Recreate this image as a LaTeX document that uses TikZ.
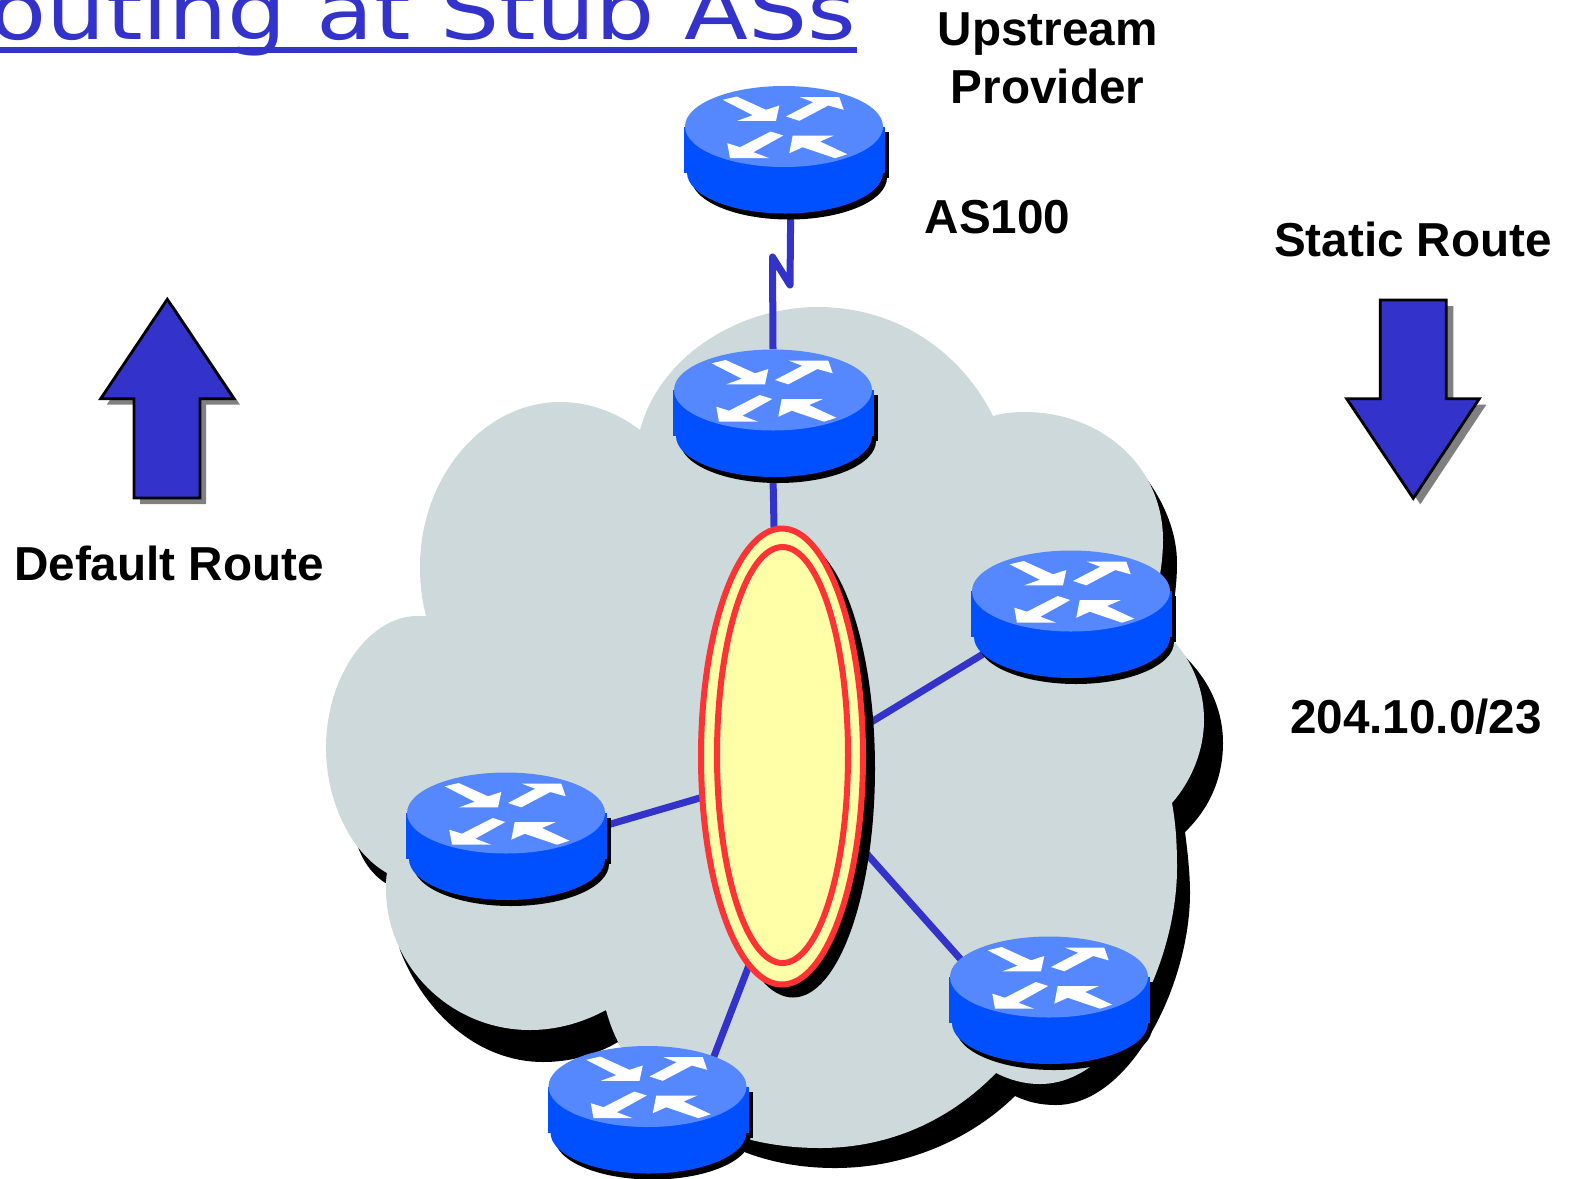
\documentclass[tikz,border=0pt]{standalone}
\usepackage{fontspec}
\setmainfont{Liberation Sans}
\newfontfamily\titlefont{DejaVu Sans}
\usetikzlibrary{shapes.geometric}
\definecolor{linkblue}{HTML}{3333CC}
\definecolor{routertop}{HTML}{5588FF}
\definecolor{routerbody}{HTML}{0050FF}
\definecolor{cloudgrey}{HTML}{CED9DB}
\definecolor{hubred}{HTML}{FF3333}
\definecolor{hubyellow}{HTML}{FFFFA8}
\newcommand{\cloudoutline}{
    (640,430) .. controls (660,355) and (740,307) .. (818,307)
    .. controls (895,307) and (960,350) .. (993,416)
    .. controls (1003,413) and (1014,412) .. (1025,412)
    .. controls (1100,412) and (1163,465) .. (1163,540)
    .. controls (1163,570) and (1155,600) .. (1150,620)
    .. controls (1185,645) and (1204,680) .. (1204,720)
    .. controls (1204,750) and (1192,780) .. (1172,803)
    .. controls (1176,825) and (1177,845) .. (1177,868)
    .. controls (1177,960) and (1120,1084) .. (1040,1084)
    .. controls (1024,1084) and (1010,1080) .. (996,1073)
    .. controls (950,1120) and (890,1148) .. (820,1148)
    .. controls (720,1148) and (630,1100) .. (606,1010)
    .. controls (582,1023) and (556,1030) .. (530,1030)
    .. controls (450,1030) and (386,965) .. (386,889)
    .. controls (386,883) and (386,878) .. (387,873)
    .. controls (350,852) and (326,800) .. (326,748)
    .. controls (326,675) and (370,616) .. (417,616)
    -- (426,616) .. controls (422,600) and (420,585) .. (420,567)
    .. controls (420,475) and (485,402) .. (560,402)
    .. controls (590,402) and (618,413) .. (640,430) -- cycle}
\newcommand{\cloudshade}{
    (1146,478) .. controls (1166,505) and (1177,535) .. (1177,563)
    .. controls (1177,590) and (1172,620) .. (1165,640)
    .. controls (1200,665) and (1223,700) .. (1223,743)
    .. controls (1223,780) and (1208,810) .. (1185,832)
    .. controls (1188,855) and (1190,875) .. (1190,893)
    .. controls (1190,985) and (1130,1105) .. (1056,1105)
    .. controls (1040,1105) and (1028,1102) .. (1015,1096)
    .. controls (970,1140) and (905,1168) .. (835,1168)
    .. controls (760,1168) and (680,1140) .. (618,1042)
    .. controls (596,1055) and (570,1062) .. (543,1062)
    .. controls (480,1062) and (425,1015) .. (400,950)
    -- (387,884) .. controls (372,875) and (362,860) .. (357,844)
    -- (600,600) -- cycle}
\tikzset{
    label/.style={font=\fontsize{13.55}{16}\selectfont\bfseries,anchor=base,inner sep=0pt},
    link/.style={draw=linkblue,line width=.07cm,line join=round},
    routerport/.style={ellipse,minimum width=2cm,minimum height=1.26cm,inner sep=0pt},
    hubport/.style={ellipse,minimum width=1.62cm,minimum height=4.56cm,inner sep=0pt},
    hubring/.style={draw=hubred,line width=.06cm},
    blockarrow/.style={fill=linkblue,draw=black,line width=.8pt,line join=miter},
    router/.pic={
        \begin{scope}[shift={(0,-23)}]
        \fill[black] (-95,5) rectangle (105,51);
        \fill[black] (5,51) ellipse (98 and 42);
        \fill[routerbody] (-100,0) rectangle (101,46);
        \fill[routerbody] (1,46) ellipse (98 and 41);
        \fill[routertop] (0,0) ellipse (99 and 40.5);
        \fill[white] (-61.3,-26.7) -- (-47.3,-30) -- (-18,-16.7) -- (-4.7,-21) -- (-8,-5.7) -- (-46.7,-5.7) -- (-31.3,-11.3) -- cycle;
        \fill[white] (2,-10) -- (29.3,-24.3) -- (16,-29.3) -- (55.3,-29.3) -- (59.7,-16.7) -- (44.3,-21) -- (15.3,-5.7) -- cycle;
        \fill[white] (-.7,9) -- (-13.3,5) -- (-44,20.7) -- (-56.7,16.7) -- (-54,31.7) -- (-14.7,31.7) -- (-30.7,25.7) -- cycle;
        \fill[white] (63.3,27.7) -- (51,31.7) -- (18.7,20.7) -- (5.3,26.7) -- (8.7,9) -- (50,9) -- (36,15) -- cycle;
        \end{scope}
    }
}
\begin{document}
\begin{tikzpicture}[x=.01cm,y=-.01cm]
    \useasboundingbox (0,0) rectangle (1569,1178);
    \clip (0,0) rectangle (1569,1178);
    \fill[black] \cloudshade;
    \fill[cloudgrey] \cloudoutline;
    \foreach \name/\cx/\cy in {upstream/784/149.5,core/773/413,east/1071/614,west/506/836,south/647.5/1109.5,southeast/1049/1000}
        \node[routerport] (\name) at (\cx,\cy) {};
    \node[hubport] (hub) at (782,756.5) {};
    \coordinate (kinklow) at (790,285);
    \coordinate (kinkhigh) at (772.5,257);
    \draw[link] (upstream.-84.6) -- (kinklow) -- (kinkhigh) -- (core.north);
    \draw[link] (core.south) -- (hub.92.3);
    \draw[link] (hub.20) -- (east.204);
    \draw[link] (hub.207.9) -- (west.6.3);
    \draw[link] (hub.-49.5) -- (southeast.157.4);
    \draw[link] (hub.261.5) -- (south.37);
    \fill[black] (793,768.5) ellipse (82 and 229);
    \draw[hubring,fill=hubyellow] (hub.center) ellipse (81 and 228);
    \draw[hubring] (782.5,755) ellipse (65.5 and 208);
    \foreach \name in {upstream,core,east,west,south,southeast}
        \pic at (\name.center) {router};
    \fill[black!50,shift={(6,6)}] (167.3,299.3) -- (234,398.7) -- (200,398.7) -- (200,498) -- (134,498) -- (134,398.7) -- (100.7,398.7) -- cycle;
    \draw[blockarrow] (167.3,299.3) -- (234,398.7) -- (200,398.7) -- (200,498) -- (134,498) -- (134,398.7) -- (100.7,398.7) -- cycle;
    \fill[black!50,shift={(7,6)}] (1380.3,300) -- (1446.3,300) -- (1446.3,398.7) -- (1479.3,398.7) -- (1413.3,498.3) -- (1346.7,398.7) -- (1380.3,398.7) -- cycle;
    \draw[blockarrow] (1380.3,300) -- (1446.3,300) -- (1446.3,398.7) -- (1479.3,398.7) -- (1413.3,498.3) -- (1346.7,398.7) -- (1380.3,398.7) -- cycle;
    \node[anchor=base west,inner sep=0pt,xscale=1.17,text=linkblue,font=\titlefont\fontsize{22.7}{26}\selectfont] (title) at (-11,39) {outing at Stub ASs};
    \draw[linkblue,line width=.055cm] (0,50) -- (857,50);
    \node[label] (provider) at (1047.5,45) {Upstream};
    \node[label] (providerb) at (1047.5,103) {Provider};
    \node[label] (asnum) at (997.5,233) {AS100};
    \node[label] (staticlabel) at (1413,256) {Static Route};
    \node[label] (defaultlabel) at (169,580) {Default Route};
    \node[label] (prefix) at (1416,733) {204.10.0/23};
\end{tikzpicture}
\end{document}
